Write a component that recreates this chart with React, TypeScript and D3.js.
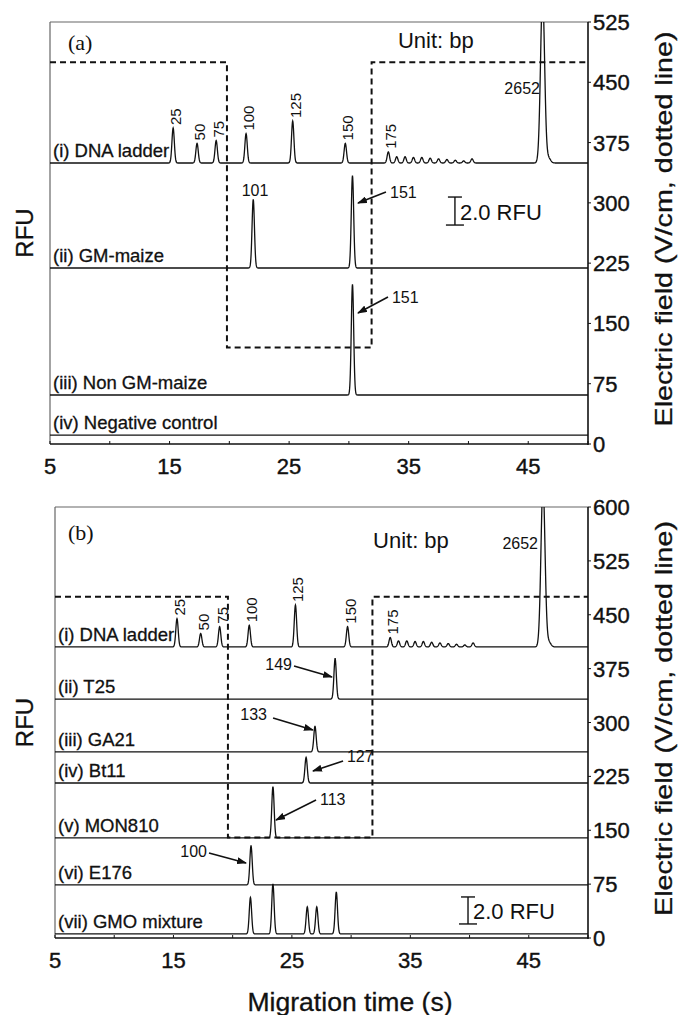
import React from 'react';
import * as d3 from 'd3';

// DNA ladder (bp) and its migration times (s), same run in both panels
const ladderSizes = ['25', '50', '75', '100', '125', '150', '175', '2652'];
const ladderTimes = [15.3, 17.3, 18.9, 21.4, 25.3, 29.7, 33.3, 46.2];
const ladderRfuA = [2.5, 1.4, 1.6, 2.1, 3.0, 1.4, 0.8, 12];
const ladderRfuB = [2.1, 1.0, 1.5, 1.6, 3.1, 1.5, 0.7, 12];
// small ripples after the 175 bp fragment, and the tail of the 2652 bp peak
const rippleTimes = [34.0, 34.7, 35.4, 36.1, 36.8, 37.5, 38.2, 38.9, 39.6, 40.3, 46.7];
const rippleRfu = [0.45, 0.45, 0.4, 0.4, 0.35, 0.3, 0.25, 0.2, 0.15, 0.3, 0.35];

// panel (a)
const namesA = ['(i) DNA ladder', '(ii) GM-maize', '(iii) Non GM-maize', '(iv) Negative control'];
const baselinesA = [20.07, 12.57, 3.5, 0.64];
const sampleTimesA = [[], [22.0, 30.3], [30.3], []];
const sampleRfuA = [[], [4.9, 6.6], [7.9], []];
const fieldTimesA = [5, 19.8, 19.8, 31.9, 31.9, 50];
const fieldA = [475, 475, 120, 120, 475, 475];
const fieldTicksA = [0, 75, 150, 225, 300, 375, 450, 525];

// panel (b)
const namesB = ['(i) DNA ladder', '(ii) T25', '(iii) GA21', '(iv) Bt11', '(v) MON810', '(vi) E176', '(vii) GMO mixture'];
const baselinesB = [21.56, 17.7, 13.78, 11.48, 7.41, 3.93, 0.3];
const sampleTimesB = [[], [28.65], [26.95], [26.2], [23.4], [21.55], [21.5, 23.4, 26.3, 27.1, 28.75]];
const sampleRfuB = [[], [3.0], [1.9], [1.9], [3.8], [2.9], [2.7, 3.7, 2.0, 2.0, 3.1]];
const fieldTimesB = [5, 19.6, 19.6, 31.8, 31.8, 50];
const fieldB = [475, 475, 140, 140, 475, 475];
const fieldTicksB = [0, 75, 150, 225, 300, 375, 450, 525, 600];

const timeTicks = [5, 15, 25, 35, 45];

const FONT = "'Liberation Sans', Arial, Helvetica, sans-serif";
const INK = '#111';

type Note = {
  text: string; t: number; r: number; anchor: 'start' | 'middle' | 'end';
  tail?: [number, number]; tip?: [number, number];
};

const notesA: Note[] = [
  { text: '101', t: 22.15, r: 17.71, anchor: 'middle' },
  { text: '151', t: 33.44, r: 17.57, anchor: 'start', tail: [33.1, 18.0], tip: [30.76, 17.21] },
  { text: '151', t: 33.6, r: 10.07, anchor: 'start', tail: [33.27, 10.5], tip: [30.76, 9.36] },
  { text: '2652', t: 45.98, r: 25.0, anchor: 'end' },
];
const notesB: Note[] = [
  { text: '2652', t: 45.78, r: 28.81, anchor: 'end' },
  { text: '149', t: 25.01, r: 19.85, anchor: 'end', tail: [25.18, 20.15], tip: [28.39, 19.33] },
  { text: '133', t: 22.9, r: 16.15, anchor: 'end', tail: [23.41, 16.3], tip: [26.78, 15.41] },
  { text: '127', t: 29.65, r: 13.04, anchor: 'start', tail: [29.32, 13.11], tip: [26.78, 12.37] },
  { text: '113', t: 27.37, r: 9.85, anchor: 'start', tail: [27.04, 10.22], tip: [23.66, 8.74] },
  { text: '100', t: 17.83, r: 6.0, anchor: 'end', tail: [18.0, 6.3], tip: [21.13, 5.56] },
];

const samples = d3.range(5, 50.0001, 0.02);
const sigmaFor = (c: number) => (c > 45 ? 0.17 : 0.1);

function traceData(base: number, times: number[], rfu: number[]): [number, number][] {
  return samples.map((t) => {
    let v = base;
    times.forEach((c, i) => {
      const s = sigmaFor(c);
      v += rfu[i] * Math.exp(-((t - c) ** 2) / (2 * s * s));
    });
    return [t, v];
  });
}

type Spec = {
  id: string; tag: string; x0: number; x1: number; yTop: number; yBot: number;
  fieldMax: number; rfuMax: number; names: string[]; baselines: number[];
  times: number[][]; rfu: number[][]; ladderRfu: number[];
  fieldTimes: number[]; field: number[]; fieldTicks: number[]; notes: Note[];
  tagAt: [number, number]; unitAt: [number, number]; barAt: [number, number];
};

function Panel({ p }: { p: Spec }) {
  const x = d3.scaleLinear().domain([5, 50]).range([p.x0, p.x1]);
  const yF = d3.scaleLinear().domain([0, p.fieldMax]).range([p.yBot, p.yTop]);
  const yR = d3.scaleLinear().domain([0, p.rfuMax]).range([p.yBot, p.yTop]);
  const line = d3.line<[number, number]>().x((d) => x(d[0])).y((d) => yR(d[1]));
  const fieldLine = d3.line<number>().x((_, i) => x(p.fieldTimes[i])).y((d) => yF(d));

  const traces = p.names.map((_, i) =>
    i === 0
      ? traceData(p.baselines[0], [...ladderTimes, ...rippleTimes], [...p.ladderRfu, ...rippleRfu])
      : traceData(p.baselines[i], p.times[i], p.rfu[i])
  );
  const mid = (p.yTop + p.yBot) / 2;
  const barTop = yR(p.barAt[1] + 2);
  const barBot = yR(p.barAt[1]);
  const bx = x(p.barAt[0]);

  return (
    <g>
      <defs>
        <clipPath id={`clip-${p.id}`}>
          <rect x={p.x0} y={p.yTop} width={p.x1 - p.x0} height={p.yBot - p.yTop} />
        </clipPath>
      </defs>
      {/* frame */}
      <line x1={p.x0} x2={p.x1} y1={p.yTop} y2={p.yTop} stroke="#666" strokeWidth={1.2} />
      <line x1={p.x0} x2={p.x0} y1={p.yTop} y2={p.yBot} stroke="#666" strokeWidth={1.2} />
      <line x1={p.x1} x2={p.x1} y1={p.yTop} y2={p.yBot + 1} stroke={INK} strokeWidth={1.6} />
      <line x1={p.x0} x2={p.x1} y1={p.yBot} y2={p.yBot} stroke={INK} strokeWidth={1.6} />
      {d3.range(5, 50.1, 5).map((t) => (
        <line key={t} x1={x(t)} x2={x(t)} y1={p.yBot} y2={p.yBot - 3} stroke={INK} strokeWidth={1} />
      ))}
      {timeTicks.map((t) => (
        <text key={t} x={x(t)} y={p.yBot + 30} textAnchor="middle" fontFamily={FONT} fontSize={22}
          fill={INK} stroke={INK} strokeWidth={0.4}>
          {t}
        </text>
      ))}
      {p.fieldTicks.map((v) => (
        <g key={v}>
          <line x1={p.x1} x2={p.x1 + 3} y1={yF(v)} y2={yF(v)} stroke={INK} strokeWidth={1} />
          <text x={p.x1 + 5} y={yF(v) + 8} fontFamily={FONT} fontSize={22} fill={INK} stroke={INK} strokeWidth={0.4}>
            {v}
          </text>
        </g>
      ))}

      <g clipPath={`url(#clip-${p.id})`}>
        {traces.map((d, i) => (
          <path key={i} d={line(d) as string} fill="none" stroke={INK} strokeWidth={1.3} />
        ))}
        <path d={fieldLine(p.field) as string} fill="none" stroke={INK} strokeWidth={2} strokeDasharray="6,4" />
      </g>

      {p.names.map((n, i) => (
        <text key={n} x={p.x0 + 3} y={yR(p.baselines[i]) - 6} fontFamily={FONT} fontSize={18.5} fill={INK}
          stroke={INK} strokeWidth={0.3}>
          {n}
        </text>
      ))}
      {ladderSizes.slice(0, 7).map((s, i) => {
        const px = x(ladderTimes[i]) + 8;
        const py = yR(p.baselines[0] + p.ladderRfu[i]) - 3;
        return (
          <text key={s} transform={`translate(${px},${py}) rotate(-90)`} fontFamily={FONT} fontSize={15} fill={INK}>
            {s}
          </text>
        );
      })}
      {p.notes.map((n, i) => (
        <g key={i}>
          <text x={x(n.t)} y={yR(n.r)} textAnchor={n.anchor} fontFamily={FONT} fontSize={16} fill={INK}>
            {n.text}
          </text>
          {n.tail && n.tip && (
            <line x1={x(n.tail[0])} y1={yR(n.tail[1])} x2={x(n.tip[0])} y2={yR(n.tip[1])}
              stroke={INK} strokeWidth={1.6} markerEnd="url(#arrow)" />
          )}
        </g>
      ))}

      <text x={x(p.tagAt[0])} y={yR(p.tagAt[1])} fontFamily="'Liberation Serif', 'Times New Roman', serif" fontSize={22} fill={INK}>
        {p.tag}
      </text>
      <text x={x(p.unitAt[0])} y={yR(p.unitAt[1])} fontFamily={FONT} fontSize={22} fill={INK}>Unit: bp</text>

      {/* 2.0 RFU scale bar */}
      <line x1={bx} x2={bx} y1={barTop} y2={barBot} stroke={INK} strokeWidth={1.4} />
      <line x1={bx - 7} x2={bx + 7} y1={barTop} y2={barTop} stroke={INK} strokeWidth={1.4} />
      <line x1={bx - 9} x2={bx + 9} y1={barBot} y2={barBot} stroke={INK} strokeWidth={1.4} />
      <text x={bx + 5} y={barBot - 5} fontFamily={FONT} fontSize={22} fill={INK}>2.0 RFU</text>

      <text transform={`translate(33,${mid}) rotate(-90)`} textAnchor="middle" fontFamily={FONT} fontSize={24}
        fill={INK} stroke={INK} strokeWidth={0.3}>
        RFU
      </text>
      <text transform={`translate(672,${mid - 4}) rotate(-90)`} textAnchor="middle" fontFamily={FONT} fontSize={24}
        textLength={395} lengthAdjust="spacingAndGlyphs" fill={INK} stroke={INK} strokeWidth={0.3}>
        Electric field (V/cm, dotted line)
      </text>
    </g>
  );
}

const specA: Spec = {
  id: 'a', tag: '(a)', x0: 50, x1: 588, yTop: 22, yBot: 444,
  fieldMax: 525, rfuMax: 422 / 14, names: namesA, baselines: baselinesA,
  times: sampleTimesA, rfu: sampleRfuA, ladderRfu: ladderRfuA,
  fieldTimes: fieldTimesA, field: fieldA, fieldTicks: fieldTicksA, notes: notesA,
  tagAt: [6.5, 28.14], unitAt: [34.1, 28.29], barAt: [38.87, 15.64],
};
const specB: Spec = {
  id: 'b', tag: '(b)', x0: 55, x1: 588, yTop: 507, yBot: 938,
  fieldMax: 600, rfuMax: 431 / 13.5, names: namesB, baselines: baselinesB,
  times: sampleTimesB, rfu: sampleRfuB, ladderRfu: ladderRfuB,
  fieldTimes: fieldTimesB, field: fieldB, fieldTicks: fieldTicksB, notes: notesB,
  tagAt: [6.1, 29.5], unitAt: [31.85, 28.9], barAt: [39.87, 1.04],
};

export default function App() {
  return (
    <svg width={679} height={1015} style={{ position: 'absolute', left: 0, top: 0, background: '#fff' }}>
      <defs>
        <marker id="arrow" viewBox="0 0 10 7" refX={9} refY={3.5} markerWidth={10} markerHeight={7}
          markerUnits="userSpaceOnUse" orient="auto">
          <path d="M0,0 L10,3.5 L0,7 Z" fill={INK} />
        </marker>
      </defs>
      <Panel p={specA} />
      <Panel p={specB} />
      <text x={350} y={1011} textAnchor="middle" fontFamily={FONT} fontSize={25} textLength={205}
        lengthAdjust="spacingAndGlyphs" fill={INK} stroke={INK} strokeWidth={0.3}>
        Migration time (s)
      </text>
    </svg>
  );
}
